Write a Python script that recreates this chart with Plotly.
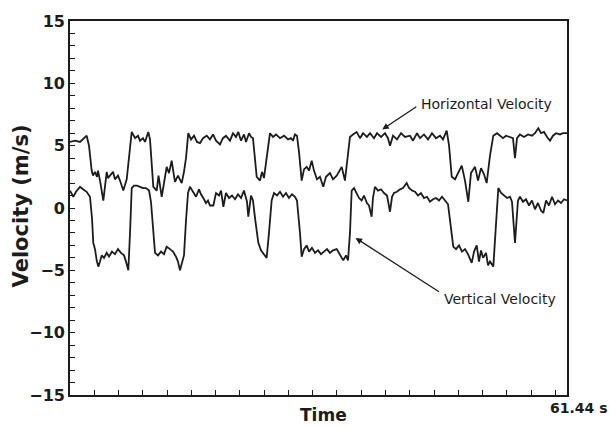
import plotly.graph_objects as go

# ---- data ----
t_horizontal = [0, 0.62, 1.24, 1.73, 2.06, 2.35, 2.68, 2.84, 3.09, 3.34, 3.46, 3.71, 4.12, 4.54, 4.70, 4.94,
                5.32, 5.56, 5.93, 6.18, 6.59, 7.01, 7.29, 7.63, 8.04, 8.41, 8.65, 9.02, 9.27, 9.68, 9.89,
                10.30, 10.72, 10.94, 11.34, 11.62, 11.95, 12.24, 12.57, 12.73, 12.98, 13.35, 13.81, 14.09,
                14.34, 14.62, 14.96, 15.33, 15.70, 16.07, 16.44, 16.90, 17.30, 17.68, 18.05, 18.54, 18.91,
                19.28, 19.78, 20.15, 20.52, 20.81, 21.14, 21.51, 21.76, 22.13, 22.38, 22.62, 22.87, 23.08,
                23.49, 23.74, 23.98, 24.35, 24.72, 25.10, 25.47, 25.96, 26.46, 26.95, 27.32, 27.57, 27.81,
                28.06, 28.31, 28.64, 28.93, 29.26, 29.55, 29.88, 30.16, 30.53, 30.90, 31.31, 31.65, 32.14,
                32.51, 32.97, 33.25, 33.59, 33.99, 34.24, 34.61, 34.98, 35.44, 35.85, 36.22, 36.71, 37.09,
                37.58, 37.95, 38.45, 38.94, 39.31, 39.56, 39.93, 40.42, 40.92, 41.41, 42.03, 42.40, 42.90,
                43.27, 43.76, 44.26, 44.75, 45.25, 45.74, 46.11, 46.57, 46.86, 47.19, 47.60, 47.97, 48.43,
                48.83, 49.24, 49.57, 50.07, 50.44, 50.81, 51.18, 51.51, 51.92, 52.33, 52.79, 53.16, 53.53,
                53.90, 54.39, 54.76, 55.01, 55.26, 55.63, 56.12, 56.62, 57.11, 57.48, 57.89, 58.23, 58.60,
                58.97, 59.34, 59.71, 60.08, 60.57, 60.95, 61.44]
v_horizontal = [5.3, 5.4, 5.3, 5.6, 5.8, 5.0, 3.0, 2.6, 2.9, 2.5, 3.0, 2.2, 0.6, 2.9, 2.4, 2.6,
                2.9, 2.3, 2.6, 2.2, 1.4, 2.3, 4.0, 6.1, 5.6, 5.8, 5.4, 5.6, 5.3, 6.1, 5.5,
                1.7, 1.4, 2.6, 0.9, 2.2, 3.3, 2.8, 3.8, 3.1, 2.1, 2.6, 2.0, 2.9,
                4.0, 6.0, 5.5, 5.8, 5.3, 5.2, 5.6, 5.8, 5.5, 5.9, 5.4, 5.1, 5.6,
                5.8, 5.4, 6.0, 5.7, 6.1, 5.4, 5.9, 5.3, 6.0, 5.7, 5.6, 4.0, 2.5,
                2.2, 2.9, 2.4, 4.0, 6.0, 5.7, 5.9, 5.6, 5.8, 5.5, 5.6, 5.4, 5.9,
                5.8, 4.5, 2.2, 3.1, 3.3, 3.0, 3.8, 3.0, 2.3, 2.5, 1.7, 2.5, 2.8,
                2.3, 2.6, 2.9, 3.3, 2.2, 3.5, 5.7, 5.9, 6.1, 5.6, 6.0, 5.7, 6.0,
                5.6, 6.0, 5.7, 6.0, 5.6, 5.0, 5.8, 5.5, 6.0, 5.7, 5.8, 5.4, 6.0,
                5.6, 5.9, 5.5, 6.0, 5.6, 5.8, 5.5, 6.2, 5.0, 2.5, 2.3, 2.8, 3.4,
                2.2, 0.5, 2.8, 3.3, 2.2, 3.2, 2.7, 2.0, 4.2, 5.8, 6.0, 5.8, 5.6,
                5.8, 5.7, 5.6, 4.0, 5.6, 5.9, 5.7, 5.9, 5.8, 6.0, 6.4, 6.0, 6.1,
                5.7, 5.4, 5.8, 6.0, 5.9, 6.0, 6.0]

t_vertical = [0, 0.25, 0.41, 0.74, 1.24, 1.61, 2.06, 2.47, 2.72, 2.88, 3.09, 3.30, 3.50, 3.71, 3.92, 4.20,
              4.54, 4.82, 5.19, 5.56, 5.93, 6.30, 6.68, 6.92, 7.21, 7.42, 7.63, 7.91, 8.28, 8.65, 9.02,
              9.40, 9.77, 10.01, 10.26, 10.51, 10.88, 11.25, 11.62, 11.95, 12.36, 12.73, 13.10, 13.35,
              13.60, 13.85, 14.09, 14.34, 14.59, 14.83, 15.20, 15.58, 15.95, 16.19, 16.48, 16.81, 17.06,
              17.30, 17.72, 18.05, 18.42, 18.67, 18.96, 19.28, 19.66, 20.03, 20.40, 20.77, 21.14, 21.51,
              21.88, 22.04, 22.38, 22.62, 22.87, 23.28, 23.61, 23.98, 24.31, 24.60, 24.93, 25.22, 25.59,
              25.96, 26.33, 26.70, 27.07, 27.44, 27.81, 28.06, 28.25, 28.43, 28.64, 28.93, 29.26, 29.55,
              29.91, 30.29, 30.66, 31.03, 31.40, 31.77, 32.14, 32.51, 32.97, 33.38, 33.78, 34.12, 34.37,
              34.61, 34.82, 35.11, 35.48, 35.73, 36.05, 36.34, 36.71, 36.96, 37.29, 37.45, 37.70, 38.07,
              38.45, 38.82, 39.19, 39.56, 39.81, 40.05, 40.42, 40.80, 41.17, 41.62, 41.91, 42.28, 42.65,
              43.02, 43.39, 43.76, 44.13, 44.50, 44.88, 45.25, 45.62, 45.99, 46.36, 46.73, 46.98, 47.38,
              47.72, 48.09, 48.46, 48.83, 49.20, 49.66, 49.95, 50.28, 50.56, 50.81, 51.06, 51.43, 51.68,
              51.92, 52.33, 52.67, 52.95, 53.29, 53.66, 54.03, 54.39, 54.64, 55.01, 55.38, 55.63, 56.00,
              56.37, 56.74, 57.11, 57.48, 57.85, 58.23, 58.51, 58.85, 59.22, 59.59, 59.96, 60.33, 60.70,
              61.07, 61.44]
v_vertical = [1.4, 1.0, 0.9, 1.3, 1.7, 1.5, 1.3, 0.9, -0.8, -2.8, -3.3, -4.2, -4.7, -4.3, -3.8, -4.0,
              -3.6, -3.9, -3.5, -3.7, -3.3, -3.6, -3.8, -4.3, -5.0, -2.0, 1.6, 1.8, 1.8, 1.7, 1.6,
              1.6, 1.4, 0.5, -2.0, -3.6, -3.8, -3.5, -3.7, -3.1, -3.3, -3.5, -3.9, -4.3,
              -5.0, -4.3, -3.8, -1.0, 1.2, 1.7, 1.3, 0.9, 1.5, 1.1, 0.8, 0.4, 0.6,
              0.2, 0.2, 1.2, 1.0, 1.4, 0.1, 1.2, 0.8, 1.0, 0.7, 1.1, 0.8, 1.4,
              0.5, -0.7, 1.0, 0.6, -0.8, -2.8, -3.4, -3.7, -4.0, -2.0, 0.6, 1.2, 1.0,
              1.3, 0.9, 1.2, 0.8, 1.1, 0.9, 0.6, -0.5, -2.0, -3.9, -3.3, -3.0, -3.5,
              -3.2, -3.6, -3.4, -3.7, -3.5, -3.3, -3.6, -3.4, -3.3, -3.8, -4.2, -3.8, -4.2,
              -2.0, 1.4, 1.6, 1.1, 0.8, 0.6, 1.0, 0.4, 0.2, -0.7, 0.8, 1.7, 1.4,
              1.5, 1.2, 1.0, -0.3, 0.9, 1.2, 1.3, 1.5, 1.6, 2.0, 1.6, 1.4, 1.3,
              1.0, 1.2, 0.8, 0.9, 0.5, 0.7, 0.8, 0.6, 0.9, 0.6, 0.3, -1.0, -3.1,
              -3.3, -3.0, -3.5, -3.3, -3.7, -4.4, -3.5, -3.0, -4.3, -3.4, -4.0, -3.6, -4.6,
              -4.3, -4.7, -1.0, 1.6, 1.2, 1.0, 0.8, 0.9, 0.5, -2.8, 0.6, 0.9, 0.5,
              0.7, 0.2, 0.6, -0.1, 0.4, -0.2, -0.4, 0.6, 0.2, 0.9, 0.3, 0.6, 0.4,
              0.7, 0.6]

t_end = 61.44
y_range = [-15, 15]

label_h = "Horizontal Velocity"
label_v = "Vertical Velocity"

INK = "#1c1c1c"
FONT = "DejaVu Sans"

fig = go.Figure()
fig.add_trace(go.Scatter(x=t_horizontal, y=v_horizontal, mode="lines",
                         line=dict(color=INK, width=1.8), showlegend=False, hoverinfo="skip"))
fig.add_trace(go.Scatter(x=t_vertical, y=v_vertical, mode="lines",
                         line=dict(color=INK, width=1.8), showlegend=False, hoverinfo="skip"))

# arrows
fig.add_annotation(x=38.6, y=6.3, ax=43.0, ay=8.2, xref="x", yref="y", axref="x", ayref="y",
                   text="", showarrow=True, arrowhead=2, arrowsize=1, arrowwidth=1.3, arrowcolor=INK)
fig.add_annotation(x=35.3, y=-2.4, ax=45.8, ay=-6.8, xref="x", yref="y", axref="x", ayref="y",
                   text="", showarrow=True, arrowhead=2, arrowsize=1, arrowwidth=1.3, arrowcolor=INK)
# labels
fig.add_annotation(x=43.2, y=8.35, xref="x", yref="y", text=label_h, showarrow=False,
                   xanchor="left", yanchor="middle", font=dict(family=FONT, size=14, color=INK))
fig.add_annotation(x=46.0, y=-7.3, xref="x", yref="y", text=label_v, showarrow=False,
                   xanchor="left", yanchor="middle", font=dict(family=FONT, size=14, color=INK))

# axis titles
fig.add_annotation(x=-0.098, y=0.505, xref="paper", yref="paper", text="Velocity (m/s)",
                   textangle=-90, showarrow=False, xanchor="center", yanchor="middle",
                   font=dict(family=FONT, size=21, color=INK, weight="bold"))
fig.add_annotation(x=0.51, y=-0.022, xref="paper", yref="paper", text="Time",
                   showarrow=False, xanchor="center", yanchor="top",
                   font=dict(family=FONT, size=17, color=INK, weight="bold"))
fig.add_annotation(x=1.024, y=-0.008, xref="paper", yref="paper", text="61.44 s",
                   showarrow=False, xanchor="center", yanchor="top",
                   font=dict(family=FONT, size=14, color=INK, weight="bold"))

fig.update_layout(
    width=610, height=428,
    margin=dict(l=70, r=43, t=21, b=33),
    paper_bgcolor="white", plot_bgcolor="white",
    xaxis=dict(range=[0, t_end], showgrid=False, zeroline=False,
               showline=True, linecolor=INK, linewidth=1.6, mirror=True,
               ticks="inside", tickmode="linear", tick0=0, dtick=3, ticklen=5,
               tickwidth=1.3, tickcolor=INK, showticklabels=False),
    yaxis=dict(range=y_range, showgrid=False, zeroline=False,
               showline=True, linecolor=INK, linewidth=1.6, mirror=True,
               ticks="inside", tickmode="linear", tick0=0, dtick=5, ticklen=5,
               tickwidth=1.3, tickcolor=INK,
               tickfont=dict(family=FONT, size=16, color=INK, weight="bold"),
               minor=dict(ticks="inside", tickmode="linear", tick0=0, dtick=1, ticklen=5,
                          tickwidth=1.3, tickcolor=INK)),
)

fig.write_html("out.html", config={"displayModeBar": False},
               post_script="document.body.style.margin='0px';document.body.style.overflow='hidden';")
